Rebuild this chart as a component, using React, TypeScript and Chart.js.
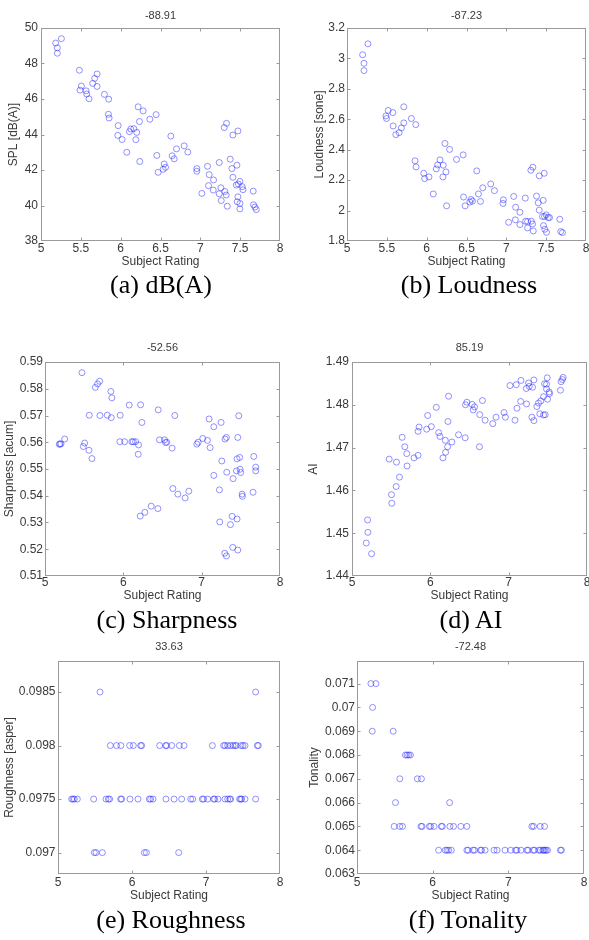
import React, { useEffect, useRef } from "react";
import { Chart, registerables } from "chart.js";

Chart.register(...registerables);

// ---------------- DATA ----------------
const subjectTicksFine = [5, 5.5, 6, 6.5, 7, 7.5, 8];
const subjectTickLabelsFine = ["5", "5.5", "6", "6.5", "7", "7.5", "8"];
const subjectTicksCoarse = [5, 6, 7, 8];
const subjectTickLabelsCoarse = ["5", "6", "7", "8"];

const splTicks = [38, 40, 42, 44, 46, 48, 50];
const splTickLabels = ["38", "40", "42", "44", "46", "48", "50"];
const loudnessTicks = [1.8, 2, 2.2, 2.4, 2.6, 2.8, 3, 3.2];
const loudnessTickLabels = ["1.8", "2", "2.2", "2.4", "2.6", "2.8", "3", "3.2"];
const sharpnessTicks = [0.51, 0.52, 0.53, 0.54, 0.55, 0.56, 0.57, 0.58, 0.59];
const sharpnessTickLabels = ["0.51", "0.52", "0.53", "0.54", "0.55", "0.56", "0.57", "0.58", "0.59"];
const aiTicks = [1.44, 1.45, 1.46, 1.47, 1.48, 1.49];
const aiTickLabels = ["1.44", "1.45", "1.46", "1.47", "1.48", "1.49"];
const roughnessTicks = [0.097, 0.0975, 0.098, 0.0985];
const roughnessTickLabels = ["0.097", "0.0975", "0.098", "0.0985"];
const tonalityTicks = [0.063, 0.064, 0.065, 0.066, 0.067, 0.068, 0.069, 0.07, 0.071];
const tonalityTickLabels = ["0.063", "0.064", "0.065", "0.066", "0.067", "0.068", "0.069", "0.07", "0.071"];

const panelTitles = ["-88.91", "-87.23", "-52.56", "85.19", "33.63", "-72.48"];
const yAxisTitles = ["SPL [dB(A)]", "Loudness [sone]", "Sharpness [acum]", "AI", "Roughness [asper]", "Tonality"];
const captions = ["(a) dB(A)", "(b) Loudness", "(c) Sharpness", "(d) AI", "(e) Roughness", "(f) Tonality"];
const xAxisTitle = "Subject Rating";

// [subject rating, value]
const splPoints: [number, number][] = [
  [5.184, 49.15], [5.205, 48.88], [5.256, 49.4], [5.205, 48.58], [5.482, 47.62], [5.507, 46.73],
  [5.49, 46.5], [5.566, 46.46], [5.574, 46.28], [5.603, 46.01], [5.649, 46.88], [5.674, 47.16],
  [5.704, 47.41], [5.704, 46.71], [5.796, 46.26], [5.85, 45.99], [5.846, 45.14], [5.855, 44.93],
  [5.968, 44.5], [5.964, 43.95], [6.018, 43.72], [6.077, 43.0], [6.11, 44.16], [6.127, 44.31],
  [6.165, 44.33], [6.202, 44.12], [6.19, 43.71], [6.236, 44.73], [6.219, 45.56], [6.282, 45.33],
  [6.24, 42.48], [6.366, 44.86], [6.445, 45.12], [6.454, 42.82], [6.47, 41.87], [6.533, 42.04],
  [6.546, 42.34], [6.563, 42.15], [6.63, 43.91], [6.646, 42.8], [6.672, 42.63], [6.701, 43.19],
  [6.797, 43.36], [6.843, 43.01], [6.956, 42.08], [6.956, 41.93], [7.019, 40.68], [7.09, 42.21],
  [7.111, 41.74], [7.103, 41.12], [7.166, 41.44], [7.162, 40.87], [7.237, 42.42], [7.258, 41.0],
  [7.237, 40.66], [7.262, 40.28], [7.308, 40.79], [7.325, 40.59], [7.338, 39.96], [7.3, 44.39],
  [7.329, 44.63], [7.375, 42.61], [7.396, 42.08], [7.409, 41.59], [7.409, 43.97], [7.459, 42.27],
  [7.472, 44.2], [7.451, 41.15], [7.476, 41.21], [7.497, 41.36], [7.472, 40.49], [7.463, 40.21],
  [7.497, 40.11], [7.497, 39.81], [7.526, 41.06], [7.535, 40.89], [7.664, 40.81], [7.668, 40.04],
  [7.685, 39.91], [7.702, 39.77],
];

const loudnessPoints: [number, number][] = [
  [5.196, 3.024], [5.213, 2.968], [5.213, 2.92], [5.263, 3.096], [5.488, 2.622], [5.496, 2.605],
  [5.517, 2.658], [5.575, 2.644], [5.579, 2.556], [5.613, 2.499], [5.654, 2.512], [5.683, 2.543],
  [5.713, 2.576], [5.713, 2.682], [5.808, 2.605], [5.863, 2.565], [5.854, 2.327], [5.867, 2.287],
  [5.963, 2.245], [5.975, 2.21], [6.029, 2.221], [6.083, 2.109], [6.121, 2.274], [6.138, 2.3],
  [6.167, 2.333], [6.208, 2.298], [6.204, 2.221], [6.229, 2.441], [6.242, 2.254], [6.25, 2.031],
  [6.288, 2.402], [6.375, 2.336], [6.458, 2.366], [6.463, 2.089], [6.483, 2.031], [6.542, 2.056],
  [6.558, 2.073], [6.575, 2.062], [6.629, 2.261], [6.65, 2.109], [6.675, 2.06], [6.704, 2.15],
  [6.804, 2.175], [6.85, 2.131], [6.963, 2.071], [6.958, 2.047], [7.029, 1.923], [7.092, 2.093],
  [7.117, 2.022], [7.113, 1.939], [7.171, 1.989], [7.171, 1.908], [7.238, 2.082], [7.242, 1.93],
  [7.267, 1.928], [7.267, 1.886], [7.313, 1.93], [7.329, 1.912], [7.338, 1.866], [7.308, 2.265],
  [7.333, 2.285], [7.379, 2.095], [7.4, 2.051], [7.413, 2.003], [7.413, 2.228], [7.463, 2.067],
  [7.475, 2.245], [7.454, 1.961], [7.479, 1.961], [7.5, 1.972], [7.525, 1.954], [7.542, 1.954],
  [7.467, 1.901], [7.483, 1.877], [7.504, 1.857], [7.671, 1.943], [7.683, 1.862], [7.704, 1.855],
];

const sharpnessPoints: [number, number][] = [
  [5.191, 0.5594], [5.204, 0.5594], [5.183, 0.5592], [5.251, 0.5612], [5.472, 0.586], [5.506, 0.5597],
  [5.489, 0.5584], [5.561, 0.557], [5.599, 0.5539], [5.565, 0.5701], [5.642, 0.5805], [5.671, 0.5818],
  [5.697, 0.5828], [5.701, 0.57], [5.795, 0.5701], [5.841, 0.579], [5.854, 0.5766], [5.846, 0.5692],
  [5.96, 0.5701], [5.956, 0.5602], [6.016, 0.5602], [6.075, 0.5739], [6.109, 0.5602], [6.126, 0.5602],
  [6.156, 0.5602], [6.194, 0.559], [6.19, 0.5555], [6.22, 0.574], [6.237, 0.5674], [6.215, 0.5324],
  [6.275, 0.5338], [6.356, 0.5361], [6.441, 0.5352], [6.445, 0.5721], [6.462, 0.5609], [6.526, 0.5609],
  [6.539, 0.5599], [6.555, 0.56], [6.623, 0.5578], [6.657, 0.57], [6.632, 0.5427], [6.696, 0.5406],
  [6.789, 0.5392], [6.836, 0.5417], [6.938, 0.5593], [6.955, 0.56], [7.014, 0.5614], [7.074, 0.5607],
  [7.095, 0.5687], [7.108, 0.558], [7.155, 0.5658], [7.155, 0.5476], [7.227, 0.5422], [7.231, 0.5302],
  [7.248, 0.5674], [7.257, 0.553], [7.299, 0.5612], [7.316, 0.5618], [7.32, 0.5488], [7.295, 0.5185],
  [7.316, 0.5175], [7.367, 0.5292], [7.389, 0.5323], [7.397, 0.5207], [7.452, 0.5313], [7.452, 0.5538],
  [7.486, 0.5543], [7.444, 0.5493], [7.49, 0.5499], [7.499, 0.5487], [7.461, 0.5618], [7.474, 0.5699],
  [7.461, 0.5197], [7.401, 0.5464], [7.516, 0.5406], [7.52, 0.5398], [7.656, 0.5413], [7.665, 0.5547],
  [7.69, 0.5507], [7.69, 0.5493],
];

const aiPoints: [number, number][] = [
  [5.199, 1.4531], [5.203, 1.4502], [5.182, 1.4477], [5.25, 1.4452], [5.475, 1.4673], [5.504, 1.459],
  [5.508, 1.457], [5.564, 1.4609], [5.568, 1.4666], [5.606, 1.4631], [5.64, 1.4724], [5.674, 1.4702],
  [5.699, 1.4686], [5.703, 1.4657], [5.792, 1.4676], [5.843, 1.4682], [5.843, 1.4738], [5.856, 1.4748],
  [5.953, 1.4743], [5.966, 1.4775], [6.013, 1.4749], [6.076, 1.4794], [6.106, 1.4735], [6.123, 1.4726],
  [6.161, 1.4676], [6.191, 1.4717], [6.22, 1.4702], [6.195, 1.4689], [6.225, 1.4761], [6.233, 1.482],
  [6.275, 1.4713], [6.36, 1.473], [6.445, 1.4723], [6.449, 1.48], [6.466, 1.4806], [6.534, 1.4801],
  [6.547, 1.4788], [6.564, 1.4795], [6.627, 1.4702], [6.631, 1.4777], [6.665, 1.481], [6.699, 1.4764],
  [6.797, 1.4756], [6.839, 1.4771], [6.941, 1.4782], [6.958, 1.4771], [7.017, 1.4845], [7.081, 1.4764],
  [7.097, 1.4847], [7.106, 1.4792], [7.153, 1.4808], [7.157, 1.4857], [7.229, 1.4802], [7.225, 1.4838],
  [7.254, 1.4851], [7.263, 1.4843], [7.305, 1.4841], [7.322, 1.4858], [7.297, 1.4771], [7.322, 1.4763],
  [7.36, 1.4796], [7.381, 1.4804], [7.398, 1.4779], [7.411, 1.4809], [7.445, 1.4819], [7.445, 1.4776],
  [7.458, 1.4849], [7.466, 1.4777], [7.483, 1.4848], [7.492, 1.4863], [7.483, 1.4837], [7.496, 1.4813],
  [7.517, 1.483], [7.521, 1.4826], [7.661, 1.4834], [7.669, 1.4854], [7.686, 1.4859], [7.695, 1.4864],
];

const roughnessPoints: [number, number][] = [
  [5.568, 0.0985], [7.671, 0.0985],
  [5.707, 0.098], [5.791, 0.098], [5.85, 0.098], [5.968, 0.098], [6.018, 0.098], [6.117, 0.098],
  [6.131, 0.098], [6.374, 0.098], [6.455, 0.098], [6.468, 0.098], [6.536, 0.098], [6.64, 0.098],
  [6.703, 0.098], [7.086, 0.098], [7.239, 0.098], [7.257, 0.098], [7.293, 0.098], [7.329, 0.098],
  [7.365, 0.098], [7.392, 0.098], [7.41, 0.098], [7.473, 0.098], [7.5, 0.098], [7.527, 0.098],
  [7.694, 0.098], [7.707, 0.098],
  [5.185, 0.0975], [5.203, 0.0975], [5.221, 0.0975], [5.261, 0.0975], [5.482, 0.0975], [5.649, 0.0975],
  [5.68, 0.0975], [5.698, 0.0975], [5.847, 0.0975], [5.86, 0.0975], [5.973, 0.0975], [6.081, 0.0975],
  [6.234, 0.0975], [6.252, 0.0975], [6.284, 0.0975], [6.459, 0.0975], [6.568, 0.0975], [6.671, 0.0975],
  [6.793, 0.0975], [6.82, 0.0975], [6.95, 0.0975], [6.968, 0.0975], [7.023, 0.0975], [7.104, 0.0975],
  [7.117, 0.0975], [7.162, 0.0975], [7.257, 0.0975], [7.293, 0.0975], [7.32, 0.0975], [7.333, 0.0975],
  [7.455, 0.0975], [7.468, 0.0975], [7.482, 0.0975], [7.527, 0.0975], [7.671, 0.0975],
  [5.491, 0.097], [5.514, 0.097], [5.599, 0.097], [6.167, 0.097], [6.194, 0.097], [6.631, 0.097],
];

const tonalityPoints: [number, number][] = [
  [5.184, 0.071], [5.25, 0.071],
  [5.206, 0.07],
  [5.202, 0.069], [5.478, 0.069],
  [5.64, 0.068], [5.662, 0.068], [5.684, 0.068], [5.706, 0.068],
  [5.566, 0.067], [5.798, 0.067], [5.851, 0.067],
  [5.509, 0.066], [6.224, 0.066],
  [5.491, 0.065], [5.566, 0.065], [5.601, 0.065], [5.846, 0.065], [5.86, 0.065], [5.956, 0.065],
  [5.974, 0.065], [6.018, 0.065], [6.114, 0.065], [6.127, 0.065], [6.228, 0.065], [6.276, 0.065],
  [6.373, 0.065], [6.452, 0.065], [7.311, 0.065], [7.333, 0.065], [7.421, 0.065], [7.478, 0.065],
  [6.079, 0.064], [6.167, 0.064], [6.189, 0.064], [6.211, 0.064], [6.246, 0.064], [6.452, 0.064],
  [6.469, 0.064], [6.535, 0.064], [6.553, 0.064], [6.632, 0.064], [6.645, 0.064], [6.693, 0.064],
  [6.811, 0.064], [6.851, 0.064], [6.956, 0.064], [7.031, 0.064], [7.096, 0.064], [7.114, 0.064],
  [7.167, 0.064], [7.246, 0.064], [7.263, 0.064], [7.329, 0.064], [7.346, 0.064], [7.404, 0.064],
  [7.425, 0.064], [7.456, 0.064], [7.469, 0.064], [7.482, 0.064], [7.5, 0.064], [7.518, 0.064],
  [7.689, 0.064], [7.702, 0.064],
];

// ---------------- STYLE / LAYOUT ----------------
const SANS = "'Liberation Sans', Arial, Helvetica, sans-serif";
const SERIF = "'Liberation Serif', 'Times New Roman', Times, serif";
const TEXT = "#3a3a3a";
const AXIS = "#9a9a9a";
const MARKER = "rgba(40,40,255,0.5)";
const TITLE_SIZE = 11;
const TICK_SIZE = 12;
const LABEL_SIZE = 12;

type Row = { top: number; height: number; plotTop: number; plotBottom: number; titleY: number; xLabelY: number; xTitleY: number; captionY: number };
type Col = { left: number; width: number; plotLeft: number; plotRight: number; yLabelRight: number; yTitleX: number; captionX: number };

const rows: Row[] = [
  { top: 0, height: 272, plotTop: 28, plotBottom: 241, titleY: 16, xLabelY: 248.3, xTitleY: 261.5, captionY: 287.5 },
  { top: 330, height: 276, plotTop: 362, plotBottom: 576, titleY: 347.7, xLabelY: 583, xTitleY: 596, captionY: 622.5 },
  { top: 630, height: 276, plotTop: 661, plotBottom: 874, titleY: 646.7, xLabelY: 882.5, xTitleY: 895.5, captionY: 922.5 },
];

const cols: Col[] = [
  { left: 0, width: 295, plotLeft: 41, plotRight: 280, yLabelRight: 38, yTitleX: 14, captionX: 161 },
  { left: 295, width: 305, plotLeft: 347, plotRight: 586, yLabelRight: 345, yTitleX: 320, captionX: 469 },
  { left: 0, width: 295, plotLeft: 45, plotRight: 280, yLabelRight: 43, yTitleX: 9.5, captionX: 167 },
  { left: 295, width: 305, plotLeft: 352, plotRight: 587, yLabelRight: 349, yTitleX: 314, captionX: 471 },
  { left: 0, width: 295, plotLeft: 58, plotRight: 280, yLabelRight: 55.5, yTitleX: 10, captionX: 171 },
  { left: 295, width: 305, plotLeft: 357, plotRight: 584, yLabelRight: 355, yTitleX: 314.5, captionX: 468 },
];

type PanelSpec = {
  points: [number, number][];
  xTicks: number[];
  xLabels: string[];
  yTicks: number[];
  yLabels: string[];
  yMin: number;
  yMax: number;
};

const panels: PanelSpec[] = [
  { points: splPoints, xTicks: subjectTicksFine, xLabels: subjectTickLabelsFine, yTicks: splTicks, yLabels: splTickLabels, yMin: 38, yMax: 50 },
  { points: loudnessPoints, xTicks: subjectTicksFine, xLabels: subjectTickLabelsFine, yTicks: loudnessTicks, yLabels: loudnessTickLabels, yMin: 1.8, yMax: 3.2 },
  { points: sharpnessPoints, xTicks: subjectTicksCoarse, xLabels: subjectTickLabelsCoarse, yTicks: sharpnessTicks, yLabels: sharpnessTickLabels, yMin: 0.51, yMax: 0.59 },
  { points: aiPoints, xTicks: subjectTicksCoarse, xLabels: subjectTickLabelsCoarse, yTicks: aiTicks, yLabels: aiTickLabels, yMin: 1.44, yMax: 1.49 },
  { points: roughnessPoints, xTicks: subjectTicksCoarse, xLabels: subjectTickLabelsCoarse, yTicks: roughnessTicks, yLabels: roughnessTickLabels, yMin: 0.0968, yMax: 0.09879 },
  { points: tonalityPoints, xTicks: subjectTicksCoarse, xLabels: subjectTickLabelsCoarse, yTicks: tonalityTicks, yLabels: tonalityTickLabels, yMin: 0.063, yMax: 0.07195 },
];

const boxPlugin = {
  id: "matlabBox",
  afterDatasetsDraw(chart: any) {
    const { ctx, chartArea: a, scales } = chart;
    const L = Math.round(a.left) + 0.5;
    const R = Math.round(a.right) - 0.5;
    const T = Math.round(a.top) + 0.5;
    const B = Math.round(a.bottom) - 0.5;
    const len = 3;
    ctx.save();
    ctx.strokeStyle = AXIS;
    ctx.lineWidth = 1;
    ctx.strokeRect(L, T, R - L, B - T);
    ctx.beginPath();
    for (const t of scales.x.ticks) {
      const px = Math.round(scales.x.getPixelForValue(t.value)) + 0.5;
      if (px <= L + 1 || px >= R - 1) continue;
      ctx.moveTo(px, B);
      ctx.lineTo(px, B - len);
      ctx.moveTo(px, T);
      ctx.lineTo(px, T + len);
    }
    for (const t of scales.y.ticks) {
      const py = Math.round(scales.y.getPixelForValue(t.value)) + 0.5;
      if (py <= T + 1 || py >= B - 1) continue;
      ctx.moveTo(L, py);
      ctx.lineTo(L + len, py);
      ctx.moveTo(R, py);
      ctx.lineTo(R - len, py);
    }
    ctx.stroke();
    ctx.restore();
  },
};

function Panel({ index }: { index: number }) {
  const ref = useRef<HTMLCanvasElement | null>(null);
  const row = rows[Math.floor(index / 2)];
  const col = cols[index];
  const spec = panels[index];

  useEffect(() => {
    if (!ref.current) return;
    const titleLH = TITLE_SIZE * 1.2;
    const tickLH = TICK_SIZE * 1.2;
    const labelLH = LABEL_SIZE * 1.2;
    const titleCenter = row.titleY - row.top;
    const plotTop = row.plotTop - row.top;
    const plotBottom = row.plotBottom - row.top;
    const titlePadTop = titleCenter - titleLH / 2;
    const titlePadBottom = plotTop - titlePadTop - titleLH;
    const xAxisH = row.height - plotBottom;
    const xTickPad = row.xLabelY - row.plotBottom - tickLH / 2;
    const xTitlePadBottom = row.height - (row.xTitleY - row.top) - labelLH / 2;
    const yAxisW = col.plotLeft - col.left;
    const yTickPad = col.plotLeft - col.yLabelRight;
    const yTitlePadTop = col.yTitleX - col.left - labelLH / 2;
    const padRight = col.width - (col.plotRight - col.left);

    const chart = new Chart(ref.current, {
      type: "scatter",
      data: {
        datasets: [
          {
            data: spec.points.map(([x, y]) => ({ x, y })),
            pointStyle: "circle",
            pointRadius: 3,
            pointHoverRadius: 3,
            pointBorderWidth: 1,
            borderColor: MARKER,
            pointBorderColor: MARKER,
            backgroundColor: "rgba(0,0,0,0)",
            pointBackgroundColor: "rgba(0,0,0,0)",
          },
        ],
      },
      options: {
        animation: false,
        responsive: false,
        events: [],
        layout: { padding: { left: 0, top: 0, bottom: 0, right: padRight } },
        plugins: {
          legend: { display: false },
          tooltip: { enabled: false },
          title: {
            display: true,
            text: panelTitles[index],
            fullSize: false,
            color: TEXT,
            font: { family: SANS, size: TITLE_SIZE, weight: "normal" },
            padding: { top: titlePadTop, bottom: titlePadBottom },
          },
        },
        scales: {
          x: {
            type: "linear",
            position: "bottom",
            min: 5,
            max: 8,
            grid: { display: false, drawTicks: false },
            border: { display: false },
            afterBuildTicks: (s: any) => {
              s.ticks = spec.xTicks.map((v) => ({ value: v }));
            },
            afterFit: (s: any) => {
              s.height = xAxisH;
            },
            ticks: {
              color: TEXT,
              padding: xTickPad,
              maxRotation: 0,
              autoSkip: false,
              font: { family: SANS, size: TICK_SIZE },
              callback: (v: any) => {
                const i = spec.xTicks.indexOf(Number(v));
                return i >= 0 ? spec.xLabels[i] : "";
              },
            },
            title: {
              display: true,
              text: xAxisTitle,
              color: TEXT,
              font: { family: SANS, size: LABEL_SIZE },
              padding: { top: 0, bottom: xTitlePadBottom },
            },
          },
          y: {
            type: "linear",
            position: "left",
            min: spec.yMin,
            max: spec.yMax,
            grid: { display: false, drawTicks: false },
            border: { display: false },
            afterBuildTicks: (s: any) => {
              s.ticks = spec.yTicks.map((v) => ({ value: v }));
            },
            afterFit: (s: any) => {
              s.width = yAxisW;
            },
            ticks: {
              color: TEXT,
              padding: yTickPad,
              autoSkip: false,
              font: { family: SANS, size: TICK_SIZE },
              callback: (v: any) => {
                const i = spec.yTicks.findIndex((t) => Math.abs(t - Number(v)) < 1e-9);
                return i >= 0 ? spec.yLabels[i] : "";
              },
            },
            title: {
              display: true,
              text: yAxisTitles[index],
              color: TEXT,
              font: { family: SANS, size: LABEL_SIZE },
              padding: { top: yTitlePadTop, bottom: 0 },
            },
          },
        },
      },
      plugins: [boxPlugin],
    } as any);
    return () => chart.destroy();
  }, [index]);

  return (
    <>
      <canvas
        ref={ref}
        width={col.width}
        height={row.height}
        style={{ position: "absolute", left: col.left, top: row.top, width: col.width, height: row.height }}
      />
      <div
        style={{
          position: "absolute",
          left: col.captionX - 150,
          top: row.captionY - 17.2,
          width: 300,
          textAlign: "center",
          fontFamily: SERIF,
          fontSize: 26,
          lineHeight: "30px",
          color: "#000",
          whiteSpace: "nowrap",
        }}
      >
        {captions[index]}
      </div>
    </>
  );
}

export default function App() {
  return (
    <div
      style={{
        position: "absolute",
        left: 0,
        top: 0,
        width: 589,
        height: 940,
        overflow: "hidden",
        background: "#ffffff",
      }}
    >
      {[0, 1, 2, 3, 4, 5].map((i) => (
        <Panel key={i} index={i} />
      ))}
    </div>
  );
}
